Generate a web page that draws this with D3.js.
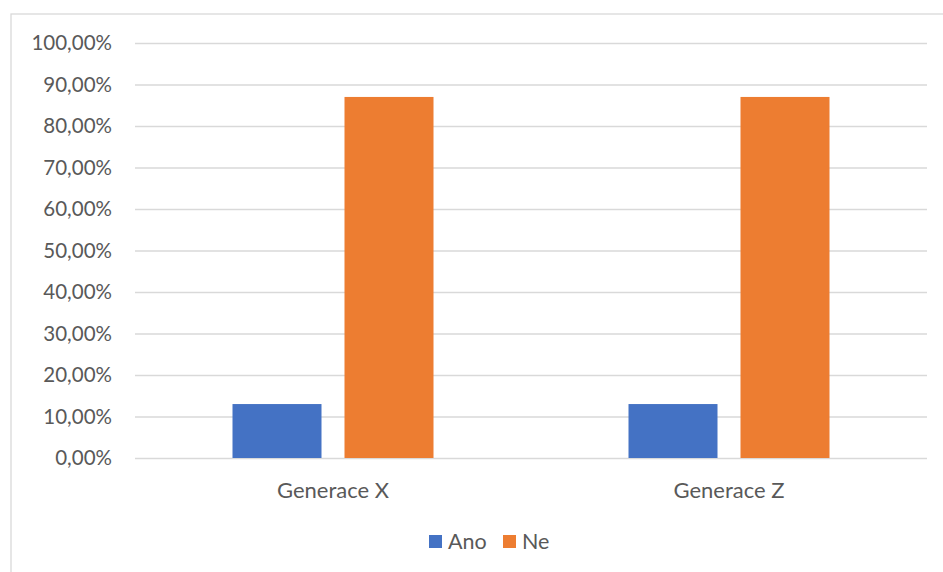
<!DOCTYPE html>
<html>
<head>
<meta charset="utf-8">
<script src="https://cdn.jsdelivr.net/npm/d3@7"></script>
<style>
  html, body { margin: 0; padding: 0; background: #fff; }
  svg { display: block; }
  text { font-family: Lato, "Open Sans", "Liberation Sans", sans-serif; fill: #595959; }
</style>
</head>
<body>
<svg id="chart" width="943" height="572"></svg>
<script>
const categories = ["Generace X", "Generace Z"];
const seriesNames = ["Ano", "Ne"];
const ano = [0.13, 0.13];
const ne = [0.87, 0.87];
const yTicks = [0, 0.1, 0.2, 0.3, 0.4, 0.5, 0.6, 0.7, 0.8, 0.9, 1.0];
const colors = ["#4472C4", "#ED7D31"];

const W = 943, H = 572;
const svg = d3.select("#chart");

// chart frame
svg.append("rect")
  .attr("x", 11).attr("y", 14)
  .attr("width", W + 10).attr("height", H + 10)
  .attr("fill", "#fff").attr("stroke", "#d9d9d9").attr("stroke-width", 1.3);

const plot = { left: 135, right: 927, top: 43, bottom: 458 };

const x0 = d3.scaleBand().domain(categories).range([plot.left, plot.right]).padding(0);
const x1 = d3.scaleBand().domain(seriesNames).range([0, 201]).paddingInner(23 / 112).paddingOuter(0);
const y = d3.scaleLinear().domain([0, 1]).range([plot.bottom, plot.top]);

const fmt = v => d3.format(".2f")(v * 100).replace(".", ",") + "%";

// gridlines + tick labels
const yAxis = d3.axisLeft(y).tickValues(yTicks).tickFormat(fmt)
  .tickSize(-(plot.right - plot.left)).tickPadding(23);
const gy = svg.append("g").attr("transform", `translate(${plot.left},0)`).call(yAxis);
gy.select(".domain").remove();
gy.selectAll(".tick line").attr("stroke", "#d9d9d9").attr("stroke-width", 1.3);
gy.selectAll(".tick text").style("font-size", "20.5px").attr("fill", "#595959");

// bars
const data = categories.map((c, i) => ({ cat: c, values: [ano[i], ne[i]] }));
const groups = svg.append("g").selectAll("g").data(data).join("g")
  .attr("transform", d => `translate(${x0(d.cat) + (x0.bandwidth() - 201) / 2},0)`);
groups.selectAll("rect").data(d => d.values.map((v, j) => ({ s: seriesNames[j], v, j })))
  .join("rect")
  .attr("x", d => x1(d.s))
  .attr("width", x1.bandwidth())
  .attr("y", d => y(d.v))
  .attr("height", d => y(0) - y(d.v))
  .attr("fill", d => colors[d.j]);

// category labels
svg.append("g").selectAll("text").data(categories).join("text")
  .attr("x", d => x0(d) + x0.bandwidth() / 2)
  .attr("y", 498)
  .attr("text-anchor", "middle")
  .style("font-size", "22px")
  .text(d => d);

// legend
const legend = svg.append("g");
const legendItems = [{ name: "Ano", x: 429 }, { name: "Ne", x: 503 }];
legendItems.forEach((it, i) => {
  legend.append("rect").attr("x", it.x).attr("y", 535).attr("width", 13).attr("height", 13).attr("fill", colors[i]);
  legend.append("text").attr("x", it.x + 19).attr("y", 549).style("font-size", "21.5px").text(it.name);
});
</script>
</body>
</html>
